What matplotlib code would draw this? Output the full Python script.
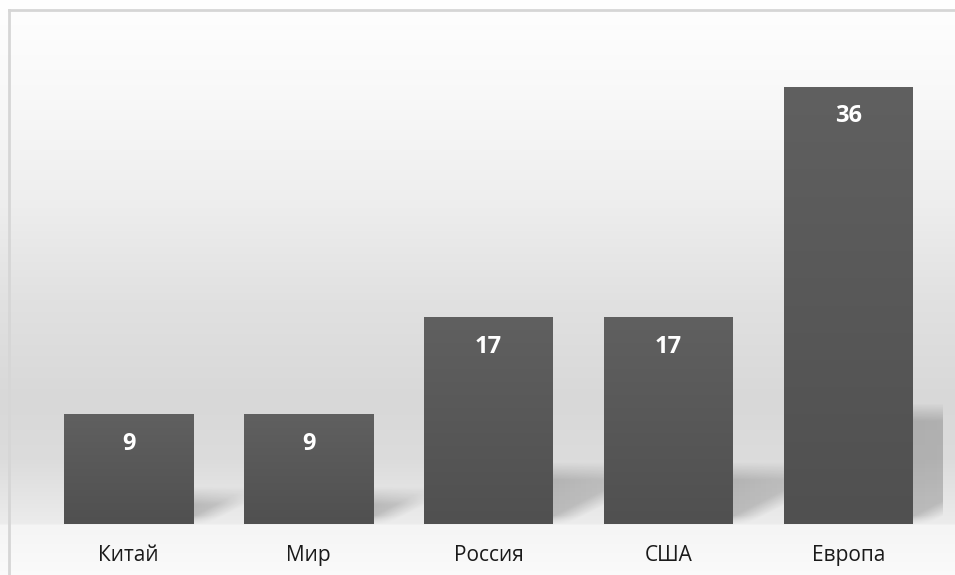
import numpy as np
import matplotlib
matplotlib.use("Agg")
import matplotlib.pyplot as plt
from matplotlib.lines import Line2D

categories = ["Китай", "Мир", "Россия", "США", "Европа"]
values = [9, 9, 17, 17, 36]
value_labels = ["9", "9", "17", "17", "36"]

W, H, DPI = 955, 575, 100
plt.rcParams['font.family'] = ['Open Sans', 'DejaVu Sans']

fig = plt.figure(figsize=(W / DPI, H / DPI), dpi=DPI)

# ---- figure background gradient (pixel rows from top) ----
bg = fig.add_axes([0, 0, 1, 1], zorder=0)
bg.set_axis_off()
rows = np.arange(H + 10) - 5
stops_y = [0, 10, 100, 200, 300, 400, 460, 500, 523, 525, 580]
stops_v = [255, 254, 248, 238, 225, 216, 220, 230, 236, 245, 251]
col = np.interp(rows, stops_y, stops_v) / 255.0
img = np.repeat(col[:, None], W + 10, axis=1)
bg.imshow(np.dstack([img, img, img]), extent=[-5, W + 5, H + 5, -5],
          aspect='auto', interpolation='bilinear')
bg.set_xlim(0, W)
bg.set_ylim(H, 0)
# outer border (only left and top edges are inside the picture)
bg.add_line(Line2D([9, 9], [H + 5, 9.5], color='#d6d6d6', linewidth=2))
bg.add_line(Line2D([9, W + 5], [9.5, 9.5], color='#d6d6d6', linewidth=2))

# ---- main axes ----
left_px, right_px = 38.5, 938.5
bottom_px = 524
ymax = 40.0
px_per_unit = 437 / 36.0
step_px = (right_px - left_px) / len(categories)
ax = fig.add_axes([left_px / W, (H - bottom_px) / H,
                   (right_px - left_px) / W, ymax * px_per_unit / H], zorder=1)
ax.set_xlim(-0.5, len(categories) - 0.5)
ax.set_ylim(0, ymax)
ax.patch.set_alpha(0)
for s in ax.spines.values():
    s.set_visible(False)
ax.set_yticks([])
ax.set_xticks(range(len(categories)))
ax.set_xticklabels(categories, fontsize=15, color='#1a1a1a')
ax.tick_params(axis='x', length=0, pad=15)

bar_w = 129 / step_px
x = np.arange(len(categories))

# ---- soft perspective shadows (computed on a grid in data coords) ----
x_hi = len(categories) - 0.5 + 3.5 / step_px
gx = np.linspace(-0.5, x_hi, 1806)
gy = np.linspace(0, ymax, 486)
XX, YY = np.meshgrid(gx, gy)
alpha = np.zeros_like(XX)
def smooth(d, w):
    return np.clip(0.5 + d / w, 0, 1)
for xi, v in zip(x, values):
    h = v * px_per_unit
    t = 0.255 * h
    shift = 0.5 * h
    k = shift / t
    x1 = xi + bar_w / 2
    xp = (XX - x1) * step_px
    yp = YY * px_per_unit
    d_top = t - yp
    d_diag = (k * yp - xp) / np.sqrt(1 + k * k)
    a = (smooth(d_top, 18) * smooth(d_diag, 14) * smooth(yp - 3, 10)
         * smooth(xp + 4, 4))
    fade = np.clip(1.0 - np.clip(xp / (1.2 * shift), 0, 1), 0, 1)
    alpha = np.maximum(alpha, a * 0.2 * (0.55 + 0.45 * fade))
sh = np.zeros(XX.shape + (4,))
sh[..., 3] = alpha
ax.imshow(sh, extent=[gx[0], gx[-1], 0, ymax], origin='lower',
          aspect='auto', zorder=1, interpolation='bilinear', clip_on=False)

# ---- bars with vertical gradient ----
grad = np.linspace(0x50, 0x60, 256)[:, None] / 255.0
grad_img = np.dstack([grad, grad, grad])
bars = ax.bar(x, values, width=bar_w, color='#585858', zorder=2)
for b in bars:
    bx, by = b.get_x(), b.get_y()
    bw, bh = b.get_width(), b.get_height()
    ax.imshow(grad_img, extent=[bx, bx + bw, by, by + bh], origin='lower',
              aspect='auto', zorder=3, interpolation='bilinear')

ax.set_xlim(-0.5, len(categories) - 0.5)
ax.set_ylim(0, ymax)

# ---- value labels ----
off = 29 / px_per_unit
for xi, v, lab in zip(x, values, value_labels):
    ax.text(xi, v - off, lab, ha='center', va='center', color='white',
            fontsize=17, fontweight='bold', zorder=4)

fig.savefig("out.png", dpi=DPI)
